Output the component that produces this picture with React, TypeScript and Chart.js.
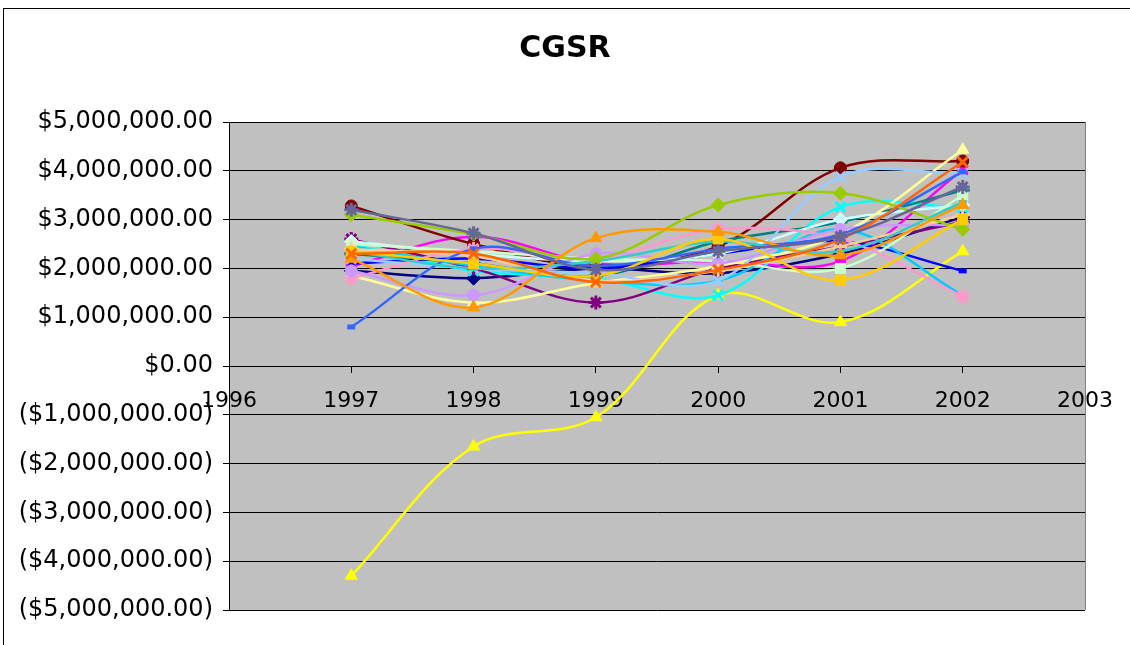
import React, { useEffect, useRef } from "react";
import { Chart, registerables } from "chart.js";

Chart.register(...registerables);

const title = "CGSR";
const years = [1997, 1998, 1999, 2000, 2001, 2002];

const seriesColors = [
  "#000080", "#FF00FF", "#FFFF00", "#00FFFF", "#800080", "#800000", "#008080", "#0000FF",
  "#00CCFF", "#CCFFFF", "#CCFFCC", "#FFFF99", "#99CCFF", "#FF99CC", "#CC99FF", "#FFCC99",
  "#3366FF", "#33CCCC", "#99CC00", "#FFCC00", "#FF9900", "#FF6600", "#666699",
];

const markerCycle = ["rectRot", "rect", "triangle", "crossRot", "star", "circle", "cross", "line", "line"];

const s01 = [1950000, 1800000, 2000000, 1900000, 2300000, 3050000];
const s02 = [2050000, 2650000, 2100000, 2150000, 2150000, 4020000];
const s03 = [-4300000, -1650000, -1050000, 1450000, 900000, 2350000];
const s04 = [2500000, 1950000, 1800000, 1450000, 3260000, 3250000];
const s05 = [2600000, 2000000, 1300000, 2000000, 2450000, 2950000];
const s06 = [3280000, 2500000, 2050000, 2450000, 4060000, 4200000];
const s07 = [2300000, 2100000, 1850000, 2550000, 2950000, 3600000];
const s08 = [2100000, 2200000, 2000000, 2300000, 2550000, 1950000];
const s09 = [2450000, 2050000, 1750000, 1750000, 2800000, 1450000];
const s10 = [2550000, 2300000, 2150000, 2300000, 3000000, 3300000];
const s11 = [2500000, 2350000, 2200000, 2150000, 2000000, 3500000];
const s12 = [1850000, 1300000, 1700000, 2050000, 2700000, 4430000];
const s13 = [2200000, 2000000, 1900000, 1750000, 3880000, 3950000];
const s14 = [1800000, 2400000, 2200000, 2800000, 2600000, 1420000];
const s15 = [1950000, 1450000, 2300000, 2100000, 2800000, 2900000];
const s16 = [2400000, 2250000, 1750000, 1950000, 2450000, 3100000];
const s17 = [800000, 2400000, 2050000, 2400000, 2700000, 3980000];
const s18 = [2350000, 2000000, 2150000, 2550000, 2350000, 3350000];
const s19 = [3100000, 2700000, 2200000, 3300000, 3540000, 2800000];
const s20 = [2350000, 2100000, 1850000, 2600000, 1760000, 3000000];
const s21 = [2200000, 1200000, 2620000, 2750000, 2270000, 3300000];
const s22 = [2300000, 2300000, 1720000, 1970000, 2600000, 4180000];
const s23 = [3200000, 2720000, 1970000, 2350000, 2650000, 3670000];

const allSeries = [s01, s02, s03, s04, s05, s06, s07, s08, s09, s10, s11, s12, s13, s14, s15, s16, s17, s18, s19, s20, s21, s22, s23];

const fmtMoney = (v: number) => {
  const s = Math.abs(v).toLocaleString("en-US", { minimumFractionDigits: 2, maximumFractionDigits: 2 });
  return v < 0 ? `($${s})` : `$${s}`;
};

const FONT = "'DejaVu Sans', Verdana, sans-serif";

const framePlugin = {
  id: "frame",
  beforeDraw(chart: any) {
    const { ctx, chartArea, width, height } = chart;
    ctx.save();
    ctx.fillStyle = "#ffffff";
    ctx.fillRect(0, 0, width, height);
    ctx.strokeStyle = "#000000";
    ctx.lineWidth = 1;
    ctx.strokeRect(3.5, 8.5, width + 50, height + 50);
    ctx.fillStyle = "#C0C0C0";
    ctx.fillRect(chartArea.left, chartArea.top, chartArea.right - chartArea.left, chartArea.bottom - chartArea.top);
    ctx.restore();
  },
  beforeDatasetsDraw(chart: any) {
    const { ctx, chartArea } = chart;
    ctx.save();
    ctx.strokeStyle = "#808080";
    ctx.lineWidth = 1;
    ctx.beginPath();
    ctx.moveTo(chartArea.right + 0.5, chartArea.top);
    ctx.lineTo(chartArea.right + 0.5, chartArea.bottom);
    ctx.stroke();
    ctx.restore();
  },
};

export default function App() {
  const ref = useRef<HTMLCanvasElement>(null);
  useEffect(() => {
    if (!ref.current) return;
    const datasets = allSeries.map((vals, i) => {
      const style = markerCycle[i % markerCycle.length];
      const isLine = style === "line";
      const isStroke = style === "crossRot" || style === "star" || style === "cross";
      return {
        label: `Series${i + 1}`,
        data: years.map((y, k) => ({ x: y, y: vals[k] })),
        borderColor: seriesColors[i],
        backgroundColor: seriesColors[i],
        pointBackgroundColor: seriesColors[i],
        pointBorderColor: seriesColors[i],
        pointStyle: style,
        pointRadius: isLine ? 4 : style === "circle" ? 6 : 7,
        pointBorderWidth: isLine ? 5 : isStroke ? 3 : 1,
        borderWidth: 2.5,
        tension: 0.35,
        order: -i,
      };
    });
    const chart = new Chart(ref.current, {
      type: "line",
      data: { datasets },
      plugins: [framePlugin],
      options: {
        animation: false,
        responsive: false,
        devicePixelRatio: 1,
        layout: { padding: { left: 0, right: 0, top: 0, bottom: 35 } },
        plugins: {
          legend: { display: false },
          tooltip: { enabled: false },
          title: {
            display: true,
            text: title,
            color: "#000",
            font: { family: FONT, size: 30, weight: "bold", lineHeight: 1.2 },
            padding: { top: 31, bottom: 55 },
          },
        },
        scales: {
          x: {
            type: "linear",
            min: 1996,
            max: 2003,
            position: { y: 0 } as any,
            ticks: {
              stepSize: 1,
              color: "#000",
              font: { family: FONT, size: 22 },
              padding: 16,
              callback: (v: any) => String(v),
            },
            grid: { drawOnChartArea: false, drawTicks: true, tickLength: 6, color: "#000" },
            border: { display: true, color: "#000", width: 1 },
          },
          y: {
            type: "linear",
            min: -5000000,
            max: 5000000,
            afterFit: (s: any) => {
              s.width = 229;
            },
            ticks: {
              stepSize: 1000000,
              color: "#000",
              font: { family: FONT, size: 24 },
              padding: 10,
              callback: (v: any) => fmtMoney(Number(v)),
            },
            grid: { color: "#000", lineWidth: 1, tickLength: 6, drawTicks: true },
            border: { display: true, color: "#000", width: 1 },
          },
          yRight: {
            type: "linear",
            position: "right",
            min: -5000000,
            max: 5000000,
            display: true,
            afterFit: (s: any) => {
              s.width = 45;
            },
            ticks: { display: false },
            grid: { drawOnChartArea: false, drawTicks: false },
            border: { display: false },
          },
        },
      } as any,
    });
    return () => chart.destroy();
  }, []);
  return (
    <div style={{ position: "fixed", left: 0, top: 0, width: 1130, height: 645, overflow: "hidden" }}>
      <canvas ref={ref} width={1130} height={645} style={{ display: "block" }} />
    </div>
  );
}
